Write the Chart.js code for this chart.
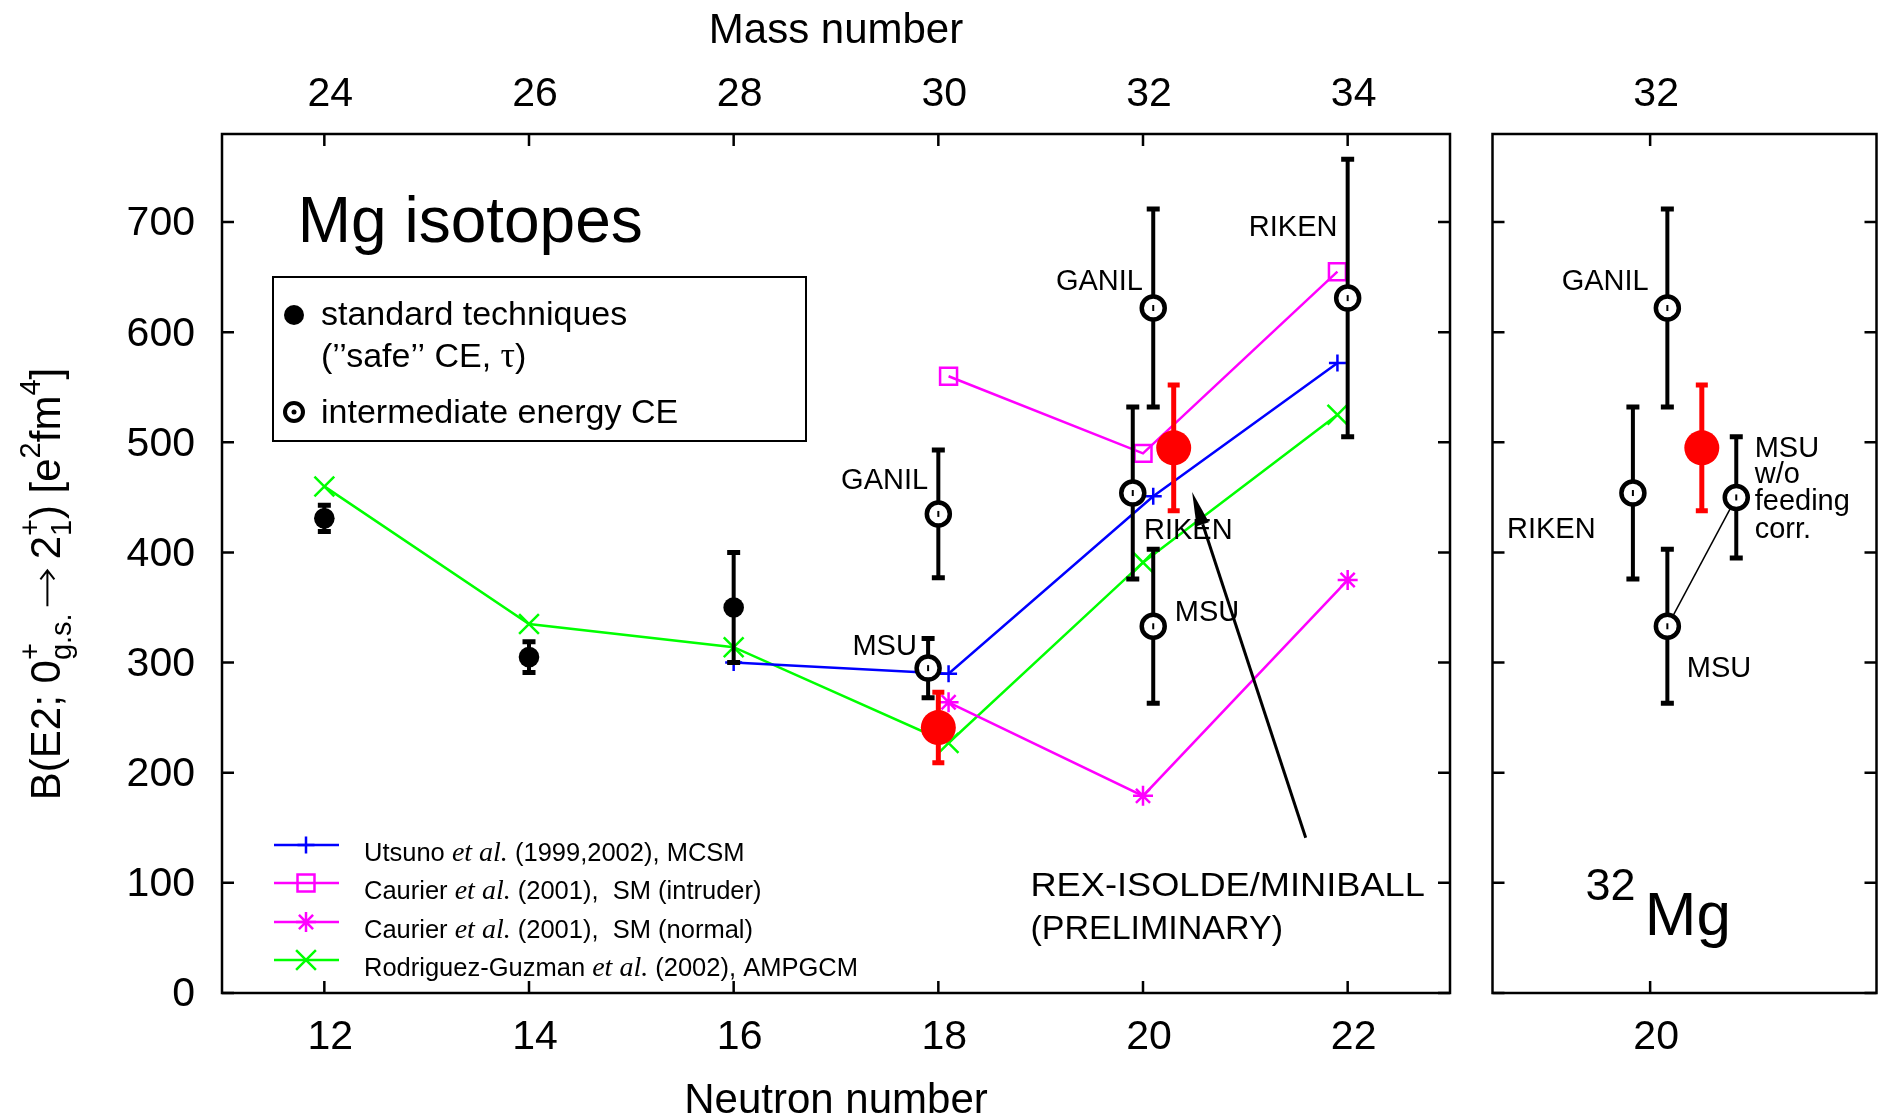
<!DOCTYPE html>
<html>
<head>
<meta charset="utf-8">
<title>B(E2) of Mg isotopes</title>
<script src="https://cdn.jsdelivr.net/npm/chart.js@4.4.0/dist/chart.umd.min.js"></script>
<style>
  html, body { margin: 0; padding: 0; background: #fff; }
  #wrap { position: relative; width: 1880px; height: 1119px; }
  #wrap canvas { position: absolute; left: 0; top: 0; }
</style>
</head>
<body>
<div id="wrap">
  <canvas id="mgChart" width="1880" height="1119"></canvas>
  <canvas id="mg32Chart" width="1880" height="1119"></canvas>
</div>
<script>
const Z_MG = 12;

// axis ticks
const neutronTicks = [12, 14, 16, 18, 20, 22];
const massTicks = [24, 26, 28, 30, 32, 34];
const bTicks = [0, 100, 200, 300, 400, 500, 600, 700];
const mg32NeutronTicks = [20];
const mg32MassTicks = [32];

// standard techniques ("safe" CE, lifetimes)
const stdN = [12, 14, 16];
const stdB = [431, 305, 350];
const stdErr = [12, 14, 50];

// intermediate energy Coulomb excitation
const ceLab = ['GANIL', 'MSU', 'RIKEN', 'GANIL', 'MSU', 'RIKEN'];
const ceN = [18, 17.9, 19.9, 20.1, 20.1, 22];
const ceB = [435, 295, 454, 622, 333, 631];
const ceErr = [58, 27, 78, 90, 70, 126];

// REX-ISOLDE / MINIBALL
const rexN = [18, 20.3];
const rexB = [241, 495];
const rexErr = [32, 57];

// calculations
const utsunoN = [16, 18.1, 20.1, 21.9];
const utsunoB = [300, 290, 451, 572];
const caurierIntN = [18.1, 20, 21.9];
const caurierIntB = [560, 490, 655];
const caurierNorN = [18.1, 20, 22];
const caurierNorB = [264, 179, 375];
const rodriguezN = [12, 14, 16, 18.1, 20, 21.9];
const rodriguezB = [460, 335, 314, 227, 391, 525];

// 32Mg close-up, points spread out around N = 20
const mg32Lab = ['RIKEN', 'GANIL', 'MSU', 'MSU w/o feeding corr.'];
const mg32N = [19.9, 20.1, 20.1, 20.5];
const mg32B = [454, 622, 333, 450];
const mg32Err = [78, 90, 70, 55];
const mg32RexN = [20.3];
const mg32RexB = [495];
const mg32RexErr = [57];

const theoryLabels = [
  ['Utsuno ', { it: 'et al.' }, ' (1999,2002), MCSM'],
  ['Caurier ', { it: 'et al.' }, ' (2001),  SM (intruder)'],
  ['Caurier ', { it: 'et al.' }, ' (2001),  SM (normal)'],
  ['Rodriguez-Guzman ', { it: 'et al.' }, ' (2002), AMPGCM']
];

const SANS = '"Liberation Sans", Arial, Helvetica, sans-serif';
const SERIF = '"Liberation Serif", "Times New Roman", serif';
const font = (size, style) => (style ? style + ' ' : '') + size + 'px ' + SANS;
const TICK = 12;

function pts(xs, ys) { return xs.map((x, i) => ({ x: x, y: ys[i] })); }

// text with italic / serif pieces, arrows and stacked super/subscripts
function partFont(p, size) {
  if (typeof p === 'string') return font(size);
  if (p.it) return 'italic ' + Math.round(size * 1.08) + 'px ' + SERIF;
  if (p.rm) return Math.round(size * 1.05) + 'px ' + SERIF;
  return font(Math.round(size * 0.7));
}

function drawRich(ctx, parts, x, y, size, align) {
  const segs = parts.map(p => {
    ctx.font = partFont(p, size);
    let w;
    if (typeof p === 'string') w = ctx.measureText(p).width;
    else if (p.arrow) w = p.arrow + 18;
    else if (p.it || p.rm) w = ctx.measureText(p.it || p.rm).width;
    else w = Math.max(p.sup ? ctx.measureText(p.sup).width : 0, p.sub ? ctx.measureText(p.sub).width : 0);
    return { p: p, w: w };
  });
  const total = segs.reduce((s, g) => s + g.w, 0);
  let cx = align === 'center' ? x - total / 2 : (align === 'right' ? x - total : x);
  ctx.textAlign = 'left';
  ctx.textBaseline = 'alphabetic';
  segs.forEach(g => {
    const p = g.p;
    ctx.font = partFont(p, size);
    if (typeof p === 'string') ctx.fillText(p, cx, y);
    else if (p.arrow) {
      const ay = y - size * 0.3, x0 = cx + 7, x1 = cx + 7 + p.arrow;
      ctx.save();
      ctx.strokeStyle = ctx.fillStyle;
      ctx.lineWidth = 2;
      ctx.beginPath();
      ctx.moveTo(x0, ay); ctx.lineTo(x1, ay);
      ctx.moveTo(x1 - 9, ay - 7); ctx.lineTo(x1, ay); ctx.lineTo(x1 - 9, ay + 7);
      ctx.stroke();
      ctx.restore();
    }
    else if (p.it || p.rm) ctx.fillText(p.it || p.rm, cx, y);
    else {
      if (p.sup) ctx.fillText(p.sup, cx, y - size * 0.48);
      if (p.sub) ctx.fillText(p.sub, cx, y + size * 0.25);
    }
    cx += g.w;
  });
}

function marker(ctx, style, radius, x, y) {
  const opts = { pointStyle: style, radius: radius, rotation: 0, borderWidth: ctx.lineWidth };
  if (Chart.helpers && Chart.helpers.drawPoint) {
    Chart.helpers.drawPoint(ctx, opts, x, y);
    return;
  }
  ctx.beginPath();
  ctx.arc(x, y, radius, 0, Math.PI * 2);
  ctx.fill();
  ctx.stroke();
}

// frame and inward tick marks
const frameTicks = {
  id: 'frameTicks',
  afterDatasetsDraw(chart) {
    const ctx = chart.ctx, a = chart.chartArea;
    ctx.save();
    ctx.strokeStyle = '#000';
    ctx.lineWidth = 2.5;
    ctx.beginPath();
    Object.values(chart.scales).forEach(s => {
      s.ticks.forEach(t => {
        const p = s.getPixelForValue(t.value);
        if (s.position === 'bottom') { ctx.moveTo(p, a.bottom); ctx.lineTo(p, a.bottom - TICK); }
        else if (s.position === 'top') { ctx.moveTo(p, a.top); ctx.lineTo(p, a.top + TICK); }
        else if (s.position === 'left') { ctx.moveTo(a.left, p); ctx.lineTo(a.left + TICK, p); }
        else if (s.position === 'right') { ctx.moveTo(a.right, p); ctx.lineTo(a.right - TICK, p); }
      });
    });
    ctx.stroke();
    ctx.strokeRect(a.left, a.top, a.right - a.left, a.bottom - a.top);
    ctx.restore();
  }
};

// vertical error bars under each dataset's markers, small mark inside the open circles
const errorBars = {
  id: 'errorBars',
  beforeDatasetDraw(chart, args) {
    const ds = chart.data.datasets[args.index];
    if (!ds.errors) return;
    const ctx = chart.ctx, ys = chart.scales.y;
    ctx.save();
    ctx.strokeStyle = ds.errColor;
    args.meta.data.forEach((el, i) => {
      const v = ds.data[i].y, e = ds.errors[i];
      const hi = ys.getPixelForValue(v + e), lo = ys.getPixelForValue(v - e);
      ctx.lineWidth = ds.errWidth;
      ctx.beginPath();
      ctx.moveTo(el.x, hi); ctx.lineTo(el.x, lo);
      ctx.stroke();
      ctx.lineWidth = 5;
      ctx.beginPath();
      ctx.moveTo(el.x - ds.capHalf, hi); ctx.lineTo(el.x + ds.capHalf, hi);
      ctx.moveTo(el.x - ds.capHalf, lo); ctx.lineTo(el.x + ds.capHalf, lo);
      ctx.stroke();
    });
    ctx.restore();
  },
  afterDatasetDraw(chart, args) {
    const ds = chart.data.datasets[args.index];
    if (!ds.centerDot) return;
    const ctx = chart.ctx;
    ctx.save();
    ctx.fillStyle = '#000';
    args.meta.data.forEach(el => {
      ctx.fillRect(el.x - 1, el.y - 3, 2, 6);
    });
    ctx.restore();
  }
};

function noteText(chart, items) {
  const ctx = chart.ctx, xs = chart.scales.x, ys = chart.scales.y;
  ctx.fillStyle = '#000';
  ctx.textBaseline = 'alphabetic';
  items.forEach(n => {
    const px = xs.getPixelForValue(n.x), py = ys.getPixelForValue(n.y);
    ctx.font = font(n.size);
    ctx.textAlign = n.align;
    ctx.save();
    ctx.translate(px, py);
    ctx.scale(n.stretch || 1, 1);
    ctx.fillText(n.text, 0, 0);
    ctx.restore();
  });
}

const mainNotes = [
  { text: 'Mg isotopes', x: 11.74, y: 682, size: 64, align: 'left' },
  { text: 'GANIL', x: 17.9, y: 457.6, size: 29, align: 'right' },
  { text: 'MSU', x: 17.79, y: 307, size: 29, align: 'right' },
  { text: 'GANIL', x: 20.0, y: 638, size: 29, align: 'right' },
  { text: 'RIKEN', x: 21.9, y: 687, size: 29, align: 'right' },
  { text: 'RIKEN', x: 20.01, y: 412, size: 29, align: 'left' },
  { text: 'MSU', x: 20.31, y: 338, size: 29, align: 'left' },
  { text: 'REX-ISOLDE/MINIBALL', x: 18.9, y: 88, size: 34, align: 'left', stretch: 1.065 },
  { text: '(PRELIMINARY)', x: 18.9, y: 49, size: 34, align: 'left' }
];
const rexArrow = { from: [21.59, 141], to: [20.48, 455] };

const mg32Notes = [
  { text: 'GANIL', x: 19.992, y: 638, size: 29, align: 'right' },
  { text: 'RIKEN', x: 19.169, y: 413, size: 29, align: 'left' },
  { text: 'MSU', x: 20.213, y: 287, size: 29, align: 'left' },
  { text: 'MSU', x: 20.607, y: 486.7, size: 29, align: 'left' },
  { text: 'w/o', x: 20.607, y: 463.1, size: 29, align: 'left' },
  { text: 'feeding', x: 20.607, y: 438.6, size: 29, align: 'left' },
  { text: 'corr.', x: 20.607, y: 413.2, size: 29, align: 'left' },
  { text: '32', x: 19.625, y: 84, size: 45, align: 'left' },
  { text: 'Mg', x: 19.969, y: 52.7, size: 62, align: 'left' }
];

// titles, legends, labels and the arrow of the main panel
const mainDecor = {
  id: 'mainDecor',
  afterDraw(chart) {
    const ctx = chart.ctx, a = chart.chartArea;
    const xs = chart.scales.x, ys = chart.scales.y;
    ctx.save();
    noteText(chart, mainNotes);

    // arrow to the REX-ISOLDE point
    const x0 = xs.getPixelForValue(rexArrow.from[0]), y0 = ys.getPixelForValue(rexArrow.from[1]);
    const x1 = xs.getPixelForValue(rexArrow.to[0]), y1 = ys.getPixelForValue(rexArrow.to[1]);
    const ang = Math.atan2(y1 - y0, x1 - x0), hl = 34, hw = 6.5;
    const bx = x1 - hl * Math.cos(ang), by = y1 - hl * Math.sin(ang);
    ctx.strokeStyle = '#000';
    ctx.lineWidth = 3;
    ctx.beginPath(); ctx.moveTo(x0, y0); ctx.lineTo(bx, by); ctx.stroke();
    ctx.fillStyle = '#000';
    ctx.beginPath();
    ctx.moveTo(x1, y1);
    ctx.lineTo(bx + hw * Math.sin(ang), by - hw * Math.cos(ang));
    ctx.lineTo(bx - hw * Math.sin(ang), by + hw * Math.cos(ang));
    ctx.closePath(); ctx.fill();

    // axis titles
    const mid = (a.left + a.right) / 2;
    ctx.fillStyle = '#000';
    ctx.font = font(42);
    ctx.textAlign = 'center';
    ctx.fillText('Mass number', mid, 43);
    ctx.fillText('Neutron number', mid, 1113);
    ctx.save();
    ctx.translate(60, 584);
    ctx.rotate(-Math.PI / 2);
    drawRich(ctx, ['B(E2; 0', { sup: '+', sub: 'g.s.' }, { arrow: 36 }, '2', { sup: '+', sub: '1' },
      ') [e', { sup: '2' }, 'fm', { sup: '4' }, ']'], 0, 0, 42, 'center');
    ctx.restore();

    // experiment legend box
    ctx.lineWidth = 2;
    ctx.strokeStyle = '#000';
    ctx.strokeRect(273, 277, 533, 164);
    ctx.fillStyle = '#000';
    ctx.beginPath(); ctx.arc(294, 315, 10, 0, Math.PI * 2); ctx.fill();
    ctx.lineWidth = 4;
    ctx.beginPath(); ctx.arc(294, 412, 9, 0, Math.PI * 2); ctx.stroke();
    ctx.beginPath(); ctx.arc(294, 412, 2.5, 0, Math.PI * 2); ctx.fill();
    ctx.font = font(34);
    ctx.textAlign = 'left';
    ctx.fillText('standard techniques', 321, 325);
    drawRich(ctx, ['(\u2019\u2019safe\u2019\u2019 CE, ', { rm: '\u03C4' }, ')'], 321, 367, 34, 'left');
    ctx.font = font(34);
    ctx.textAlign = 'left';
    ctx.fillText('intermediate energy CE', 321, 423);

    // calculation legend
    const rowsY = [845, 883, 922, 960];
    const theory = chart.data.datasets.filter(d => d.theory);
    theory.forEach((d, i) => {
      const y = rowsY[i];
      ctx.strokeStyle = d.borderColor;
      ctx.fillStyle = 'rgba(0,0,0,0)';
      ctx.lineWidth = 2.5;
      ctx.beginPath(); ctx.moveTo(274, y); ctx.lineTo(339, y); ctx.stroke();
      marker(ctx, d.pointStyle, d.pointRadius, 306, y);
      ctx.fillStyle = '#000';
      drawRich(ctx, theoryLabels[i], 364, y + 16, 25.5, 'left');
    });
    ctx.restore();
  }
};

const mg32Decor = {
  id: 'mg32Decor',
  beforeDatasetsDraw(chart) {
    // connect MSU with the uncorrected MSU value
    const ctx = chart.ctx, xs = chart.scales.x, ys = chart.scales.y;
    ctx.save();
    ctx.strokeStyle = '#000';
    ctx.lineWidth = 1.5;
    ctx.beginPath();
    ctx.moveTo(xs.getPixelForValue(mg32N[2]), ys.getPixelForValue(mg32B[2]));
    ctx.lineTo(xs.getPixelForValue(mg32N[3]), ys.getPixelForValue(mg32B[3]));
    ctx.stroke();
    ctx.restore();
  },
  afterDraw(chart) {
    chart.ctx.save();
    noteText(chart, mg32Notes);
    chart.ctx.restore();
  }
};

const tickFont = { family: SANS, size: 41 };

function fixedTicks(list) {
  return s => { s.ticks = list.map(v => ({ value: v })); };
}

function scales(xMin, xMax, nTicks, mTicks, sizes, yLabels) {
  return {
    x: {
      type: 'linear', position: 'bottom', min: xMin, max: xMax,
      afterBuildTicks: fixedTicks(nTicks),
      afterFit: s => { s.height = sizes.bottom; },
      grid: { display: false, drawTicks: false }, border: { display: false },
      ticks: { font: tickFont, color: '#000', padding: 20, maxRotation: 0, labelOffset: 6 }
    },
    xMass: {
      type: 'linear', position: 'top', min: xMin + Z_MG, max: xMax + Z_MG,
      afterBuildTicks: fixedTicks(mTicks),
      afterFit: s => { s.height = sizes.top; },
      grid: { display: false, drawTicks: false }, border: { display: false },
      ticks: { font: tickFont, color: '#000', padding: 15, maxRotation: 0, labelOffset: 6 }
    },
    y: {
      type: 'linear', position: 'left', min: 0, max: 780,
      afterBuildTicks: fixedTicks(bTicks),
      afterFit: s => { s.width = sizes.left; },
      grid: { display: false, drawTicks: false }, border: { display: false },
      ticks: { display: yLabels, font: tickFont, color: '#000', padding: 27, labelOffset: 2 }
    },
    yRight: {
      type: 'linear', position: 'right', min: 0, max: 780,
      afterBuildTicks: fixedTicks(bTicks),
      afterFit: s => { s.width = sizes.right; },
      grid: { display: false, drawTicks: false }, border: { display: false },
      ticks: { display: false }
    }
  };
}

const baseOptions = {
  responsive: false,
  animation: false,
  devicePixelRatio: 1,
  layout: { padding: 0, autoPadding: false },
  plugins: { legend: { display: false }, tooltip: { enabled: false } },
  events: []
};

function expSets(rx, rb, re, cx, cb, ce, sx, sb, se) {
  const out = [];
  out.push({
    label: 'REX-ISOLDE/MINIBALL', data: pts(rx, rb), errors: re,
    pointStyle: 'circle', pointRadius: 17.5, pointBackgroundColor: '#ff0000', pointBorderWidth: 0,
    errColor: '#ff0000', errWidth: 5, capHalf: 6
  });
  out.push({
    label: 'intermediate energy CE', data: pts(cx, cb), errors: ce, centerDot: true,
    pointStyle: 'circle', pointRadius: 11.5, pointBackgroundColor: '#ffffff',
    pointBorderColor: '#000000', pointBorderWidth: 4.5,
    errColor: '#000000', errWidth: 4, capHalf: 6.5
  });
  if (sx) {
    out.push({
      label: 'standard techniques', data: pts(sx, sb), errors: se,
      pointStyle: 'circle', pointRadius: 10.3, pointBackgroundColor: '#000000', pointBorderWidth: 0,
      errColor: '#000000', errWidth: 4, capHalf: 6.5
    });
  }
  return out;
}

function theorySet(label, xs, ys, color, style, radius) {
  return {
    label: label, theory: true, data: pts(xs, ys), showLine: true,
    borderColor: color, borderWidth: 2.5, backgroundColor: 'rgba(0,0,0,0)',
    pointStyle: style, pointRadius: radius, pointBorderColor: color,
    pointBorderWidth: 2.5, pointBackgroundColor: 'rgba(0,0,0,0)'
  };
}

new Chart(document.getElementById('mgChart'), {
  type: 'scatter',
  data: {
    datasets: expSets(rexN, rexB, rexErr, ceN, ceB, ceErr, stdN, stdB, stdErr).concat([
      theorySet('Utsuno et al. (1999,2002), MCSM', utsunoN, utsunoB, '#0000ff', 'cross', 8.5),
      theorySet('Caurier et al. (2001), SM (intruder)', caurierIntN, caurierIntB, '#ff00ff', 'rect', 12),
      theorySet('Caurier et al. (2001), SM (normal)', caurierNorN, caurierNorB, '#ff00ff', 'star', 10),
      theorySet('Rodriguez-Guzman et al. (2002), AMPGCM', rodriguezN, rodriguezB, '#00ff00', 'crossRot', 14)
    ])
  },
  options: Object.assign({}, baseOptions, {
    scales: scales(11, 23, neutronTicks, massTicks, { left: 222, right: 430, top: 134, bottom: 126 }, true)
  }),
  plugins: [errorBars, frameTicks, mainDecor]
});

new Chart(document.getElementById('mg32Chart'), {
  type: 'scatter',
  data: {
    datasets: expSets(mg32RexN, mg32RexB, mg32RexErr, mg32N, mg32B, mg32Err)
  },
  options: Object.assign({}, baseOptions, {
    scales: scales(19.085, 21.314, mg32NeutronTicks, mg32MassTicks, { left: 1492.5, right: 3.5, top: 134, bottom: 126 }, false)
  }),
  plugins: [errorBars, frameTicks, mg32Decor]
});
</script>
</body>
</html>
